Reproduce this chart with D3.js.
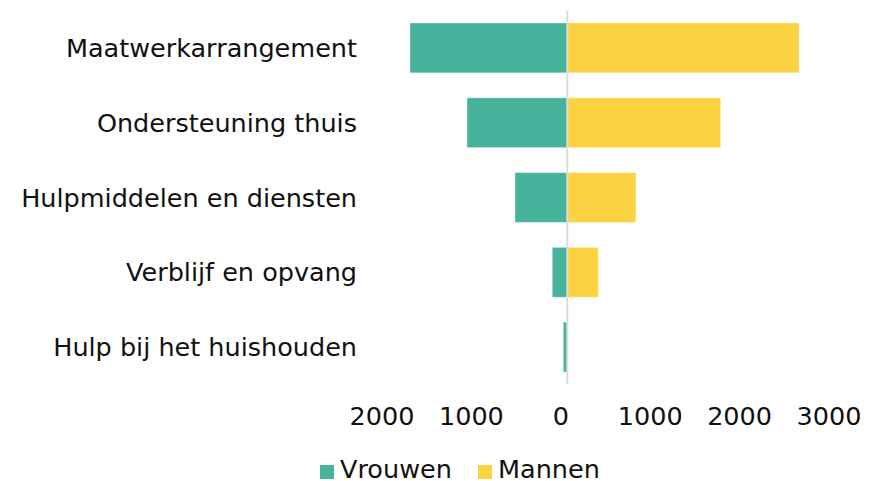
<!DOCTYPE html>
<html>
<head>
<meta charset="utf-8">
<title>Wmo-voorzieningen naar geslacht</title>
<script src="https://d3js.org/d3.v7.min.js"></script>
<style>
  body { margin: 0; padding: 0; background: #fff; }
  svg text { font-family: "DejaVu Sans", Verdana, sans-serif; font-size: 25.5px; fill: #111; }
</style>
</head>
<body>
<div id="graph"></div>
<script>
// data
var categories = ["Maatwerkarrangement", "Ondersteuning thuis", "Hulpmiddelen en diensten", "Verblijf en opvang", "Hulp bij het huishouden"];
var vrouwen = [1760, 1122, 585, 168, 45];
var mannen = [2592, 1716, 768, 347, 8];
var seriesNames = ["Vrouwen", "Mannen"];
var seriesColors = ["#48b39d", "#fbd341"];
var tickValues = [-2000, -1000, 0, 1000, 2000, 3000];

var width = 881, height = 481;

var svg = d3.select("#graph").append("svg")
  .attr("width", width)
  .attr("height", height);

var x = d3.scaleLinear().domain([-2000, 3000]).range([388.5, 835.5]);
var y = d3.scaleBand().domain(categories).range([10.5, 384.5])
  .paddingInner(1 / 3).paddingOuter(1 / 6);

// vrouwen go left, mannen right
var rows = categories.map(function (c, i) {
  return { cat: c, v: vrouwen[i], m: mannen[i] };
});

svg.selectAll(".bar-v").data(rows).enter().append("rect")
  .attr("class", "bar-v")
  .attr("x", function (d) { return x(-d.v); })
  .attr("y", function (d) { return y(d.cat); })
  .attr("width", function (d) { return x(0) - x(-d.v); })
  .attr("height", y.bandwidth())
  .attr("fill", seriesColors[0])
  .attr("stroke", "rgba(255,255,255,0.35)")
  .attr("stroke-width", 1);

svg.selectAll(".bar-m").data(rows).enter().append("rect")
  .attr("class", "bar-m")
  .attr("x", x(0))
  .attr("y", function (d) { return y(d.cat); })
  .attr("width", function (d) { return x(d.m) - x(0); })
  .attr("height", y.bandwidth())
  .attr("fill", seriesColors[1])
  .attr("stroke", "rgba(255,255,255,0.35)")
  .attr("stroke-width", 1);

// zero line
svg.append("line")
  .attr("x1", x(0)).attr("x2", x(0))
  .attr("y1", y.range()[0]).attr("y2", y.range()[1])
  .attr("stroke", "#dcdcdc")
  .attr("stroke-width", 2);

// category labels
svg.selectAll(".cat").data(categories).enter().append("text")
  .attr("class", "cat")
  .attr("x", 357)
  .attr("y", function (d) { return y(d) + y.bandwidth() / 2; })
  .attr("dy", "0.36em")
  .attr("text-anchor", "end")
  .text(function (d) { return d; });

// x axis labels (absolute values)
var xAxis = svg.append("g")
  .attr("transform", "translate(-7," + 425 + ")")
  .call(d3.axisBottom(x).tickValues(tickValues).tickSize(0).tickPadding(0)
    .tickFormat(function (d) { return Math.abs(d); }));
xAxis.select(".domain").remove();
xAxis.selectAll("text")
  .attr("dy", 0)
  .attr("font-size", null)
  .attr("font-family", null)
  .attr("fill", null);
xAxis.attr("font-size", null).attr("font-family", null);

// legend
var legend = svg.append("g");
var legendX = [320, 478];
seriesNames.forEach(function (name, i) {
  legend.append("rect")
    .attr("x", legendX[i]).attr("y", 465)
    .attr("width", 14).attr("height", 14)
    .attr("fill", seriesColors[i]);
  legend.append("text")
    .attr("x", legendX[i] + 20).attr("y", 478)
    .text(name);
});
</script>
</body>
</html>
